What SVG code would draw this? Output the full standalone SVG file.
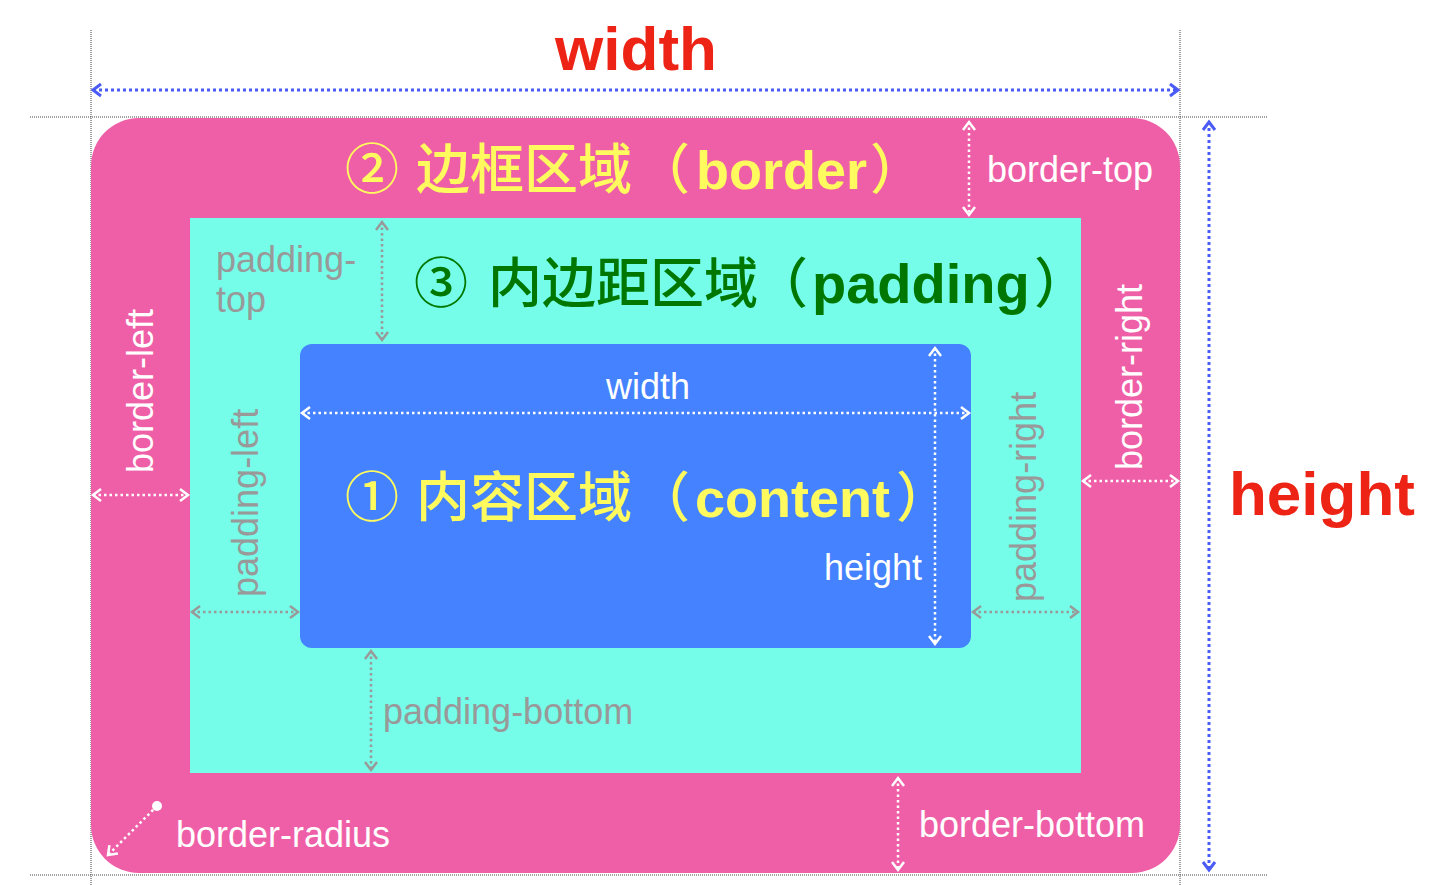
<svg xmlns="http://www.w3.org/2000/svg" width="1446" height="885" viewBox="0 0 1446 885">
<style>
text{font-family:"Liberation Sans","Noto Sans CJK SC",sans-serif}
.big{font-size:54px;font-weight:500}
.b{font-weight:bold}
.lbl{font-size:36px}
.w{fill:#fff}
.g{fill:#999}
.red{fill:#ED2415;font-size:62px;font-weight:bold}
.guide{stroke:#444;stroke-width:1;stroke-dasharray:1 1;fill:none}
.aw{stroke:#fff;stroke-width:2.5;stroke-dasharray:2.5 3;fill:none;marker-start:url(#mw);marker-end:url(#mw)}
.ag{stroke:#999;stroke-width:2.5;stroke-dasharray:2.5 3;fill:none;marker-start:url(#mg);marker-end:url(#mg)}
.ab{stroke:#4A5CF5;stroke-width:3;stroke-dasharray:3 3;fill:none;marker-start:url(#mb);marker-end:url(#mb)}
</style>
<defs>
<marker id="mw" viewBox="-10 -8 12 16" markerWidth="12" markerHeight="16" refX="0" refY="0" orient="auto-start-reverse" markerUnits="userSpaceOnUse" overflow="visible"><path d="M-8,-6 L0,0 L-8,6" fill="none" stroke="#fff" stroke-width="2.5"/></marker>
<marker id="mg" viewBox="-10 -8 12 16" markerWidth="12" markerHeight="16" refX="0" refY="0" orient="auto-start-reverse" markerUnits="userSpaceOnUse" overflow="visible"><path d="M-8,-6 L0,0 L-8,6" fill="none" stroke="#999" stroke-width="2.5"/></marker>
<marker id="mb" viewBox="-10 -8 12 16" markerWidth="12" markerHeight="16" refX="0" refY="0" orient="auto-start-reverse" markerUnits="userSpaceOnUse" overflow="visible"><path d="M-8,-6 L0,0 L-8,6" fill="none" stroke="#4A5CF5" stroke-width="3"/></marker>
<marker id="mwe" viewBox="-10 -8 12 16" markerWidth="12" markerHeight="16" refX="0" refY="0" orient="auto" markerUnits="userSpaceOnUse" overflow="visible"><path d="M-8,-6 L0,0 L-8,6" fill="none" stroke="#fff" stroke-width="2.5"/></marker>
</defs>
<rect width="1446" height="885" fill="#fff"/>
<g id="guides">
<line class="guide" x1="91" y1="30" x2="91" y2="885"/>
<line class="guide" x1="1180" y1="30" x2="1180" y2="885"/>
<line class="guide" x1="30" y1="117" x2="1267" y2="117"/>
<line class="guide" x1="30" y1="875" x2="1267" y2="875"/>
</g>
<g id="border">
<rect x="91" y="118" width="1089" height="755" rx="48" ry="48" fill="#EF5FA7"/>
<text class="big" y="189" fill="#FFFB5E"><tspan x="345">②</tspan><tspan x="416">边框区域</tspan><tspan x="636">（</tspan><tspan x="696" class="b">border</tspan><tspan x="870">）</tspan></text>
</g>
<g id="padding">
<rect x="190" y="218" width="891" height="555" fill="#75FDE9"/>
<text class="big" y="303" fill="#007700"><tspan x="414">③</tspan><tspan x="488">内边距区域</tspan><tspan x="754">（</tspan><tspan x="812" class="b" font-size="56">padding</tspan><tspan x="1034">）</tspan></text>
</g>
<g id="content">
<rect x="300" y="344" width="671" height="304" rx="12" ry="12" fill="#4482FF"/>
<text class="big" y="517" fill="#FFFB5E"><tspan x="345">①</tspan><tspan x="416">内容区域</tspan><tspan x="636">（</tspan><tspan x="695" class="b">content</tspan><tspan x="896">）</tspan></text>
</g>
<g id="connectors">
<line class="ab" x1="93" y1="90" x2="1178" y2="90"/>
<line class="ab" x1="1209" y1="122" x2="1209" y2="870"/>
<line class="aw" x1="969" y1="122" x2="969" y2="215"/>
<line class="aw" x1="898" y1="778" x2="898" y2="870"/>
<line class="aw" x1="93" y1="495" x2="188" y2="495"/>
<line class="aw" x1="1083" y1="481" x2="1178" y2="481"/>
<line class="aw" x1="302" y1="413" x2="969" y2="413"/>
<line class="aw" x1="935" y1="348" x2="935" y2="644"/>
<line class="ag" x1="382" y1="222" x2="382" y2="340"/>
<line class="ag" x1="371" y1="651" x2="371" y2="770"/>
<line class="ag" x1="192" y1="612" x2="298" y2="612"/>
<line class="ag" x1="973" y1="612" x2="1078" y2="612"/>
<circle cx="157" cy="806" r="5" fill="#fff"/>
<line x1="157" y1="806" x2="108" y2="855" stroke="#fff" stroke-width="2.5" stroke-dasharray="2.5 3" marker-end="url(#mwe)"/>
</g>
<g id="labels">
<text class="red" x="636" y="70" text-anchor="middle">width</text>
<text class="red" x="1322" y="515" text-anchor="middle">height</text>
<text class="lbl w" x="987" y="182">border-top</text>
<text class="lbl w" x="176" y="847">border-radius</text>
<text class="lbl w" x="919" y="837">border-bottom</text>
<text class="lbl w" transform="translate(153,473) rotate(-90)">border-left</text>
<text class="lbl w" transform="translate(1142,470) rotate(-90)">border-right</text>
<text class="lbl g" transform="translate(258,597) rotate(-90)">padding-left</text>
<text class="lbl g" transform="translate(1036,602) rotate(-90)">padding-right</text>
<text class="lbl g" x="216" y="272">padding-</text>
<text class="lbl g" x="216" y="312">top</text>
<text class="lbl g" x="383" y="724">padding-bottom</text>
<text class="lbl w" x="648" y="399" text-anchor="middle">width</text>
<text class="lbl w" x="922" y="580" text-anchor="end">height</text>
</g>
</svg>
